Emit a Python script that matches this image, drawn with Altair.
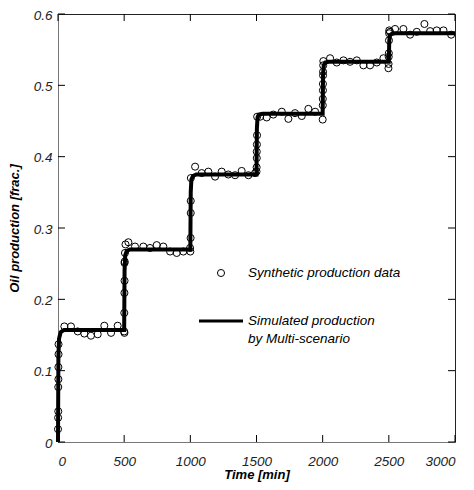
import altair as alt
import pandas as pd

# Synthetic production data (time [min], oil production [frac.])
obs_t = [0, 1, 2, 2, 3, 3, 4, 4,
         48, 98, 149, 199, 249, 300, 350, 401, 451, 500, 502, 501,
         502, 503, 503, 504, 506, 510,
         532, 582, 645, 695, 746, 796, 847, 897, 947, 998, 1000,
         1002, 1003, 1003, 1004,
         1036, 1086, 1136, 1187, 1237, 1287, 1338, 1388, 1439, 1489,
         1500, 1501, 1502, 1502, 1503, 1504, 1505,
         1527, 1577, 1627, 1691, 1741, 1791, 1842, 1892, 1943, 2000,
         2001, 2001, 2002, 2002, 2003, 2003, 2004,
         2005, 2056, 2106, 2157, 2207, 2258, 2308, 2358, 2409, 2459,
         2497, 2498, 2499, 2500, 2501, 2502, 2503,
         2509, 2547, 2610, 2661, 2711, 2769, 2812, 2862, 2913, 2971]
obs_v = [0.018, 0.034, 0.043, 0.077, 0.088, 0.105, 0.123, 0.137,
         0.162, 0.162, 0.155, 0.152, 0.149, 0.151, 0.163, 0.153, 0.163, 0.155, 0.153, 0.181,
         0.209, 0.226, 0.251, 0.253, 0.265, 0.277,
         0.280, 0.274, 0.274, 0.272, 0.276, 0.274, 0.267, 0.265, 0.267, 0.272, 0.267,
         0.286, 0.321, 0.338, 0.370,
         0.386, 0.377, 0.379, 0.372, 0.379, 0.375, 0.374, 0.380, 0.374, 0.377,
         0.379, 0.385, 0.398, 0.407, 0.417, 0.430, 0.456,
         0.456, 0.455, 0.459, 0.463, 0.453, 0.461, 0.457, 0.467, 0.463, 0.452,
         0.472, 0.481, 0.493, 0.502, 0.514, 0.519, 0.528,
         0.534, 0.538, 0.532, 0.535, 0.533, 0.535, 0.528, 0.528, 0.532, 0.538,
         0.524, 0.530, 0.540, 0.545, 0.563, 0.573, 0.577,
         0.575, 0.579, 0.579, 0.571, 0.575, 0.586, 0.576, 0.577, 0.577, 0.571]

# Simulated production by Multi-scenario (step-like curve)
sim_t = [0, 3, 8, 20, 45, 500, 503, 508, 520, 545,
         1000, 1003, 1008, 1020, 1045, 1500, 1503, 1508, 1520, 1545,
         2000, 2003, 2008, 2020, 2045, 2500, 2503, 2508, 2520, 2545, 3000]
sim_v = [0.0, 0.120, 0.145, 0.154, 0.157, 0.157, 0.240, 0.262, 0.268, 0.270,
         0.270, 0.350, 0.368, 0.373, 0.375, 0.375, 0.440, 0.455, 0.459, 0.460,
         0.460, 0.515, 0.528, 0.532, 0.533, 0.533, 0.562, 0.570, 0.572, 0.573, 0.573]

x_ticks = [0, 500, 1000, 1500, 2000, 2500, 3000]
y_ticks = [0, 0.1, 0.2, 0.3, 0.4, 0.5, 0.6]

W, H = 397, 428
FONT = "Liberation Sans"

obs = pd.DataFrame({"t": obs_t, "v": obs_v})
sim = pd.DataFrame({"t": sim_t, "v": sim_v, "o": list(range(len(sim_t)))})
xt = pd.DataFrame({"t": x_ticks})
yt = pd.DataFrame({"v": y_ticks})

xs = alt.Scale(domain=[0, 3000], nice=False, zero=False)
ys = alt.Scale(domain=[0, 0.6], nice=False, zero=False)

common = dict(ticks=False, grid=False, domainColor="#777", domainWidth=1,
              labelFont=FONT, labelFontStyle="italic", labelFontSize=13.5, labelColor="#222",
              titleFont=FONT, titleFontStyle="italic", titleFontWeight="bold",
              titleFontSize=13, titleColor="black")

x_axis = alt.Axis(values=x_ticks, title="Time [min]", labelPadding=12, titlePadding=1,
                  format="d", **common)
y_axis = alt.Axis(values=y_ticks, title="Oil production [frac.]",
                  labelPadding=6, titlePadding=12, labelOffset=1,
                  labelExpr="datum.value == 0 ? '0' : format(datum.value, '.1f')", **common)

points = alt.Chart(obs).mark_point(shape="circle", filled=False, color="black",
                                    strokeWidth=1, size=50, opacity=1).encode(
    x=alt.X("t:Q", scale=xs, axis=x_axis),
    y=alt.Y("v:Q", scale=ys, axis=y_axis),
)

line = alt.Chart(sim).mark_line(color="black", strokeWidth=4, interpolate="linear").encode(
    x=alt.X("t:Q", scale=xs),
    y=alt.Y("v:Q", scale=ys),
    order="o:Q",
)

tick_len = 7
tb = alt.Chart(xt).mark_rule(color="black", strokeWidth=1).encode(
    x=alt.X("t:Q", scale=xs), y=alt.value(H), y2=alt.value(H - tick_len))
tt = alt.Chart(xt).mark_rule(color="black", strokeWidth=1).encode(
    x=alt.X("t:Q", scale=xs), y=alt.value(0), y2=alt.value(tick_len))
tl = alt.Chart(yt).mark_rule(color="black", strokeWidth=1).encode(
    y=alt.Y("v:Q", scale=ys), x=alt.value(0), x2=alt.value(tick_len))
tr = alt.Chart(yt).mark_rule(color="black", strokeWidth=1).encode(
    y=alt.Y("v:Q", scale=ys), x=alt.value(W), x2=alt.value(W - tick_len))

leg = pd.DataFrame({"a": [1]})
LFS = 13.5
leg_pt = alt.Chart(leg).mark_point(shape="circle", filled=False, color="black",
                                   strokeWidth=1, size=50, opacity=1).encode(
    x=alt.value(163), y=alt.value(259))
leg_t1 = alt.Chart(leg).mark_text(align="left", baseline="middle", font=FONT,
                                  fontStyle="italic", fontSize=LFS, color="black").encode(
    x=alt.value(190), y=alt.value(259), text=alt.value("Synthetic production data"))
leg_ln = alt.Chart(leg).mark_rule(color="black", strokeWidth=3).encode(
    x=alt.value(141), x2=alt.value(185), y=alt.value(307))
leg_t2 = alt.Chart(leg).mark_text(align="left", baseline="middle", font=FONT,
                                  fontStyle="italic", fontSize=LFS, color="black").encode(
    x=alt.value(190), y=alt.value(307), text=alt.value("Simulated production"))
leg_t3 = alt.Chart(leg).mark_text(align="left", baseline="middle", font=FONT,
                                  fontStyle="italic", fontSize=LFS, color="black").encode(
    x=alt.value(190), y=alt.value(325), text=alt.value("by Multi-scenario"))

chart = alt.layer(points, line, tb, tt, tl, tr, leg_pt, leg_t1, leg_ln, leg_t2, leg_t3).properties(
    width=W, height=H,
    background="white",
    autosize=alt.AutoSizeParams(type="none"),
    padding={"left": 50, "top": 6, "right": 10, "bottom": 45},
).configure_view(
    stroke="#222", strokeWidth=1
)

chart.save("out.html", embed_options={"renderer": "svg", "actions": False})
